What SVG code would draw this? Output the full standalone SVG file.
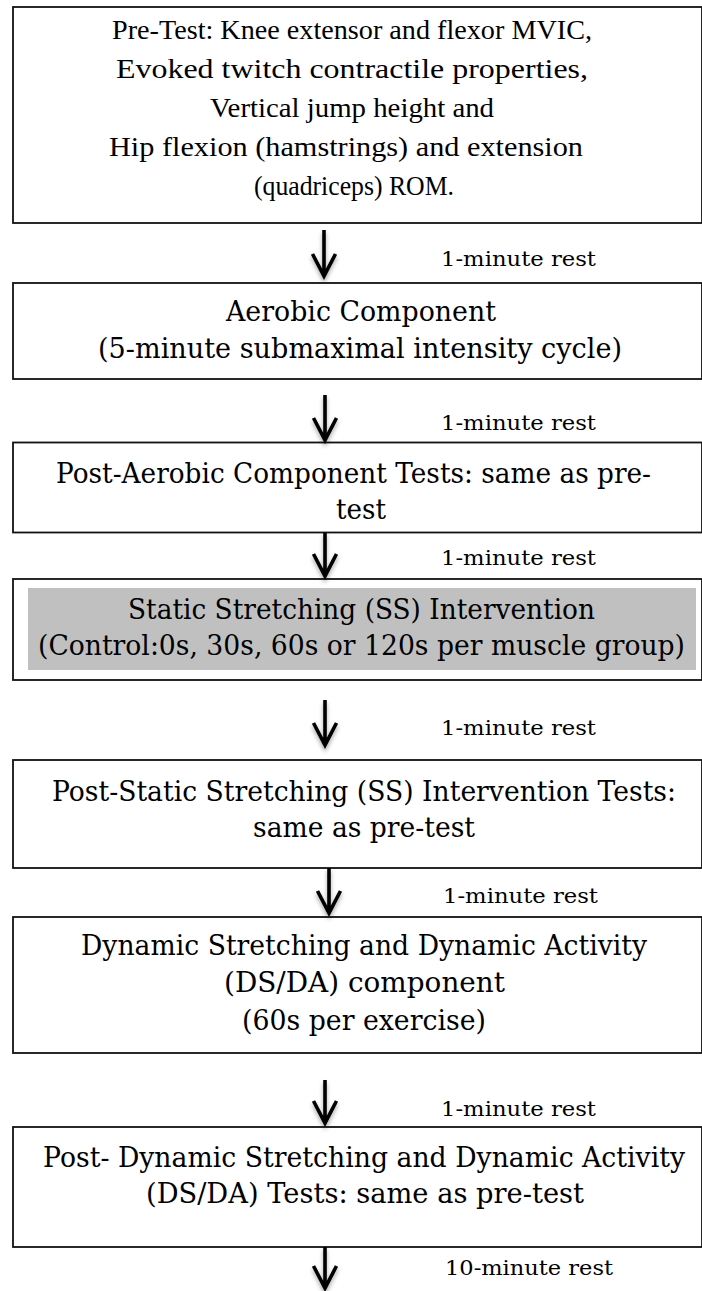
<svg xmlns="http://www.w3.org/2000/svg" width="702" height="1291" viewBox="0 0 702 1291">
  <defs>
    <filter id="sh" x="-50%" y="-20%" width="200%" height="160%">
      <feDropShadow dx="0" dy="3" stdDeviation="2" flood-color="#000" flood-opacity="0.35"/>
    </filter>
  </defs>
  <style>
    .box { fill: #fff; stroke: #111; stroke-width: 1.8; }
    .gray { fill: #c0c0c0; stroke: none; }
    .tnr { font-family: "Liberation Serif", "Times New Roman", serif; font-size: 28px; fill: #000; text-anchor: middle; }
    .cam { font-family: "DejaVu Serif", "Liberation Serif", serif; font-size: 27px; fill: #000; }
    .lbl { font-family: "DejaVu Serif", "Liberation Serif", serif; font-size: 20px; fill: #000; }
    .arr { fill: none; stroke: #000; stroke-width: 3.6; stroke-linejoin: miter; filter: url(#sh); }
  </style>
  <rect width="702" height="1291" fill="#fff"/>

  <g id="node-pretest">
    <rect class="box" x="13" y="7" width="689" height="216"/>
    <text class="tnr" x="352" y="39" textLength="480" lengthAdjust="spacingAndGlyphs">Pre-Test: Knee extensor and flexor MVIC,</text>
    <text class="tnr" x="352" y="78" textLength="472" lengthAdjust="spacingAndGlyphs">Evoked twitch contractile properties,</text>
    <text class="tnr" x="352" y="117" textLength="284" lengthAdjust="spacingAndGlyphs">Vertical jump height and</text>
    <text class="tnr" x="346" y="156" textLength="474" lengthAdjust="spacingAndGlyphs">Hip flexion (hamstrings) and extension</text>
    <text class="tnr" x="354" y="195" textLength="200" lengthAdjust="spacingAndGlyphs">(quadriceps) ROM.</text>
  </g>

  <g id="node-aerobic">
    <rect class="box" x="13" y="283" width="689" height="96"/>
    <text class="cam" x="226" y="321" textLength="270" lengthAdjust="spacingAndGlyphs">Aerobic Component</text>
    <text class="cam" x="98" y="358" textLength="524" lengthAdjust="spacingAndGlyphs">(5-minute submaximal intensity cycle)</text>
  </g>

  <g id="node-post-aerobic">
    <rect class="box" x="13" y="442.5" width="689" height="90"/>
    <text class="cam" x="56" y="483" textLength="595" lengthAdjust="spacingAndGlyphs">Post-Aerobic Component Tests: same as pre-</text>
    <text class="cam" x="336" y="519" textLength="50" lengthAdjust="spacingAndGlyphs">test</text>
  </g>

  <g id="node-ss">
    <rect class="box" x="13" y="579" width="689" height="101"/>
    <rect class="gray" x="28" y="588" width="668" height="82"/>
    <text class="cam" x="128" y="619" textLength="467" lengthAdjust="spacingAndGlyphs">Static Stretching (SS) Intervention</text>
    <text class="cam" x="38" y="655" textLength="647" lengthAdjust="spacingAndGlyphs">(Control:0s, 30s, 60s or 120s per muscle group)</text>
  </g>

  <g id="node-post-ss">
    <rect class="box" x="13" y="760" width="689" height="108"/>
    <text class="cam" x="52" y="801" textLength="624" lengthAdjust="spacingAndGlyphs">Post-Static Stretching (SS) Intervention Tests:</text>
    <text class="cam" x="253" y="837" textLength="222" lengthAdjust="spacingAndGlyphs">same as pre-test</text>
  </g>

  <g id="node-dsda">
    <rect class="box" x="13" y="917" width="689" height="136"/>
    <text class="cam" x="81" y="955" textLength="566" lengthAdjust="spacingAndGlyphs">Dynamic Stretching and Dynamic Activity</text>
    <text class="cam" x="224" y="992" textLength="281" lengthAdjust="spacingAndGlyphs">(DS/DA) component</text>
    <text class="cam" x="242" y="1030" textLength="244" lengthAdjust="spacingAndGlyphs">(60s per exercise)</text>
  </g>

  <g id="node-post-dsda">
    <rect class="box" x="13" y="1127" width="689" height="120"/>
    <text class="cam" x="43" y="1167" textLength="642" lengthAdjust="spacingAndGlyphs">Post- Dynamic Stretching and Dynamic Activity</text>
    <text class="cam" x="146" y="1203" textLength="438" lengthAdjust="spacingAndGlyphs">(DS/DA) Tests: same as pre-test</text>
  </g>

  <g id="connectors">
    <path class="arr" d="M324 230 V276 M312.5 254 L324 276 L335.5 254"/>
    <path class="arr" d="M325 395 V440 M313.5 418 L325 440 L336.5 418"/>
    <path class="arr" d="M325 533 V576 M313.5 554 L325 576 L336.5 554"/>
    <path class="arr" d="M325 700 V745 M313.5 723 L325 745 L336.5 723"/>
    <path class="arr" d="M329 868 V913 M317.5 891 L329 913 L340.5 891"/>
    <path class="arr" d="M325 1080 V1123 M313.5 1101 L325 1123 L336.5 1101"/>
    <path class="arr" d="M325 1247 V1288 M313.5 1266 L325 1288 L336.5 1266"/>
    <text class="lbl" x="441" y="266" textLength="155" lengthAdjust="spacingAndGlyphs">1-minute rest</text>
    <text class="lbl" x="441" y="430" textLength="155" lengthAdjust="spacingAndGlyphs">1-minute rest</text>
    <text class="lbl" x="441" y="565" textLength="155" lengthAdjust="spacingAndGlyphs">1-minute rest</text>
    <text class="lbl" x="441" y="735" textLength="155" lengthAdjust="spacingAndGlyphs">1-minute rest</text>
    <text class="lbl" x="443" y="903" textLength="155" lengthAdjust="spacingAndGlyphs">1-minute rest</text>
    <text class="lbl" x="441" y="1116" textLength="155" lengthAdjust="spacingAndGlyphs">1-minute rest</text>
    <text class="lbl" x="445" y="1275" textLength="168" lengthAdjust="spacingAndGlyphs">10-minute rest</text>
  </g>
</svg>
